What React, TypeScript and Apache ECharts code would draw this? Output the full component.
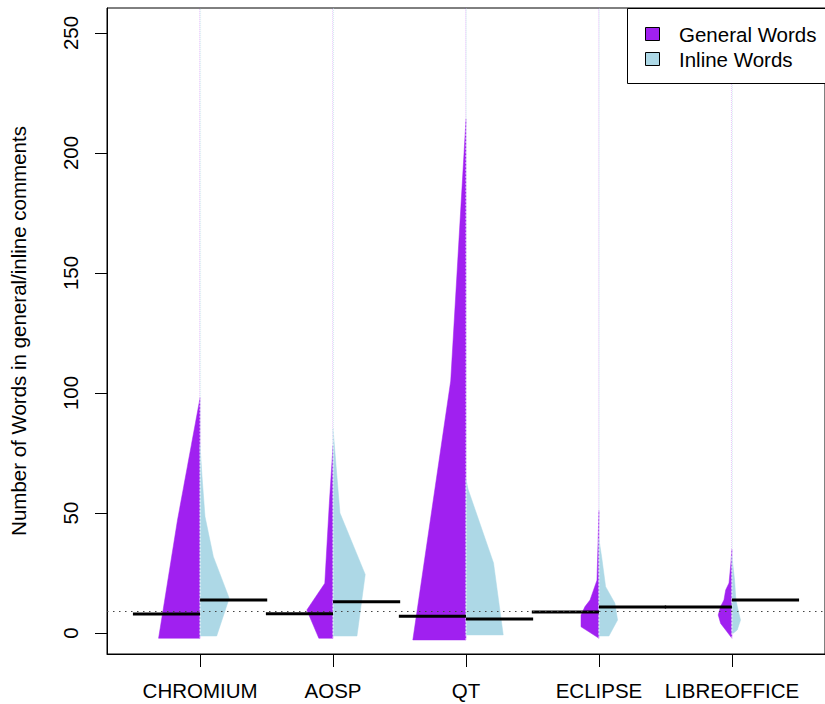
import React, { useEffect, useRef } from "react";
import * as echarts from "echarts";

const categories = ["CHROMIUM", "AOSP", "QT", "ECLIPSE", "LIBREOFFICE"];

// Bean outlines: [words, half-width of density in category units], top to bottom
const generalProfiles: number[][][] = [
  [[98, 0], [47, 0.17], [-2.2, 0.312]],
  [[78, 0], [54, 0.028], [20.7, 0.062], [9.6, 0.197], [-2.2, 0.107]],
  [[214, 0], [105, 0.115], [-2.9, 0.4]],
  [[51, 0], [22, 0.015], [13.75, 0.067], [11, 0.105], [7.5, 0.135], [2.6, 0.135], [-2.2, 0]],
  [[35, 0], [29, 0.008], [20.8, 0.022], [17.9, 0.047], [13.75, 0.06], [11, 0.085], [7.5, 0.103], [4, 0.085], [1.25, 0.047], [-2.2, 0]],
];
const inlineProfiles: number[][][] = [
  [[78, 0], [65, 0.015], [48.5, 0.037], [31.8, 0.1], [14.5, 0.219], [-1.25, 0.125]],
  [[85, 0], [50, 0.052], [24.4, 0.242], [-1.25, 0.18]],
  [[64, 0], [60, 0.015], [29.2, 0.207], [-0.8, 0.28]],
  [[39, 0], [31.8, 0.02], [19.3, 0.05], [12.4, 0.12], [5.4, 0.14], [-1.25, 0.075]],
  [[32, 0], [22, 0.02], [13.75, 0.03], [8.2, 0.052], [5.4, 0.065], [1.25, 0.04], [-0.1, 0.01]],
];
const generalMeans = [7.9, 8.0, 7.0, 8.75, 10.8];
const inlineMeans = [13.75, 13.0, 5.8, 10.8, 13.75];
const overallMean = 9.2;
const yTicks = [0, 50, 100, 150, 200, 250];
const catPositions = [1, 2, 3, 4, 5];
const seriesNames = ["General Words", "Inline Words"];

const PURPLE = "#A020F0";
const LIGHTBLUE = "#ADD8E6";
const FONT = "'Liberation Sans', Arial, Helvetica, sans-serif";
const Y_MIN = -8.75;
const Y_MAX = 260.4;

function beanRenderer(profiles: number[][][], side: number, color: string) {
  return (params: any, api: any) => {
    const i = params.dataIndex;
    const cat = catPositions[i];
    const prof = profiles[i];
    const pts = prof.map(([v, w]) => api.coord([cat + side * w, v]));
    pts.push(api.coord([cat, prof[prof.length - 1][0]]));
    pts.push(api.coord([cat, prof[0][0]]));
    const topPt = api.coord([cat, prof[0][0]]);
    const skyPt = api.coord([cat, Y_MAX]);
    return {
      type: "group",
      children: [
        {
          type: "polygon",
          shape: { points: pts },
          style: { fill: color, stroke: color, lineWidth: 0.5 },
        },
        {
          type: "line",
          shape: { x1: topPt[0] + side * 0.5, y1: topPt[1], x2: skyPt[0] + side * 0.5, y2: skyPt[1] },
          style: { stroke: side < 0 ? "rgba(160,32,240,0.25)" : "rgba(173,216,230,0.5)", lineWidth: 1, lineDash: [1, 1] },
        },
      ],
    };
  };
}

function centerRenderer(params: any, api: any) {
  const i = params.dataIndex;
  const cat = catPositions[i];
  const lo = Math.min(generalProfiles[i][generalProfiles[i].length - 1][0], inlineProfiles[i][inlineProfiles[i].length - 1][0]);
  const hi = Math.max(generalProfiles[i][0][0], inlineProfiles[i][0][0]);
  const a = api.coord([cat, lo]);
  const b = api.coord([cat, hi]);
  return {
    type: "line",
    shape: { x1: a[0], y1: a[1], x2: b[0], y2: b[1] },
    style: { stroke: "rgba(255,255,255,0.85)", lineWidth: 1, lineDash: [2, 1.5] },
  };
}

function meanRenderer(means: number[], side: number) {
  return (params: any, api: any) => {
    const i = params.dataIndex;
    const cat = catPositions[i];
    const a = api.coord([cat, means[i]]);
    const b = api.coord([cat + side * 0.505, means[i]]);
    return {
      type: "line",
      shape: { x1: a[0], y1: a[1], x2: b[0], y2: b[1] },
      style: { stroke: "#000", lineWidth: 3 },
    };
  };
}

export default function App() {
  const ref = useRef<HTMLDivElement>(null);
  useEffect(() => {
    if (!ref.current) return;
    const chart = echarts.init(ref.current, undefined, { renderer: "svg" });
    const catData = catPositions.map((c) => [c, 0]);
    const option: any = {
      animation: false,
      backgroundColor: "#fff",
      textStyle: { fontFamily: FONT },
      grid: {
        left: 106.5,
        top: 8,
        right: -2.5,
        bottom: 50,
        show: true,
        borderColor: "#000",
        borderWidth: 1,
        backgroundColor: "transparent",
      },
      xAxis: {
        type: "value",
        min: 0.3,
        max: 5.7,
        splitLine: { show: false },
        axisLine: { show: true, onZero: false, lineStyle: { color: "#000", width: 1 } },
        axisTick: { show: true, customValues: catPositions, length: 13, lineStyle: { color: "#000", width: 1 } },
        axisLabel: {
          show: true,
          customValues: catPositions,
          margin: 26,
          color: "#000",
          fontSize: 20.5,
          fontFamily: FONT,
          formatter: (v: number) => categories[Math.round(v) - 1] ?? "",
        },
      },
      yAxis: {
        type: "value",
        min: Y_MIN,
        max: Y_MAX,
        splitLine: { show: false },
        axisLine: { show: true, onZero: false, lineStyle: { color: "#000", width: 1 } },
        axisTick: { show: true, customValues: yTicks, length: 12, lineStyle: { color: "#000", width: 1 } },
        axisLabel: {
          show: true,
          customValues: yTicks,
          rotate: 90,
          margin: 26,
          color: "#000",
          fontSize: 20.5,
          fontFamily: FONT,
        },
        name: "Number of Words in general/inline comments",
        nameLocation: "middle",
        nameRotate: 90,
        nameGap: 78,
        nameTextStyle: { color: "#000", fontSize: 20.5, fontFamily: FONT },
      },
      series: [
        {
          type: "line",
          data: [],
          z: 1,
          markLine: {
            silent: true,
            symbol: "none",
            label: { show: false },
            lineStyle: { color: "#444", width: 1, type: [1.5, 4.5] },
            data: [{ yAxis: overallMean }],
          },
        },
        {
          name: seriesNames[0],
          type: "custom",
          z: 2,
          data: catData,
          renderItem: beanRenderer(generalProfiles, -1, PURPLE),
        },
        {
          name: seriesNames[1],
          type: "custom",
          z: 2,
          data: catData,
          renderItem: beanRenderer(inlineProfiles, 1, LIGHTBLUE),
        },
        {
          type: "custom",
          z: 3,
          data: catData,
          renderItem: centerRenderer,
        },
        {
          type: "custom",
          z: 4,
          data: catData,
          renderItem: meanRenderer(generalMeans, -1),
        },
        {
          type: "custom",
          z: 4,
          data: catData,
          renderItem: meanRenderer(inlineMeans, 1),
        },
      ],
      graphic: [
        {
          type: "rect",
          left: 627,
          top: 8,
          shape: { width: 210, height: 75 },
          style: { fill: "#fff", stroke: "#000", lineWidth: 1 },
          z: 10,
        },
        {
          type: "rect",
          left: 645,
          top: 27,
          shape: { width: 14, height: 13 },
          style: { fill: PURPLE, stroke: "#000", lineWidth: 1 },
          z: 11,
        },
        {
          type: "rect",
          left: 645,
          top: 52,
          shape: { width: 14, height: 13 },
          style: { fill: LIGHTBLUE, stroke: "#000", lineWidth: 1 },
          z: 11,
        },
        {
          type: "text",
          x: 679,
          y: 34,
          style: { text: seriesNames[0], fill: "#000", font: `20.5px ${FONT}`, verticalAlign: "middle" },
          z: 11,
        },
        {
          type: "text",
          x: 679,
          y: 59,
          style: { text: seriesNames[1], fill: "#000", font: `20.5px ${FONT}`, verticalAlign: "middle" },
          z: 11,
        },
      ],
    };
    chart.setOption(option);
    return () => chart.dispose();
  }, []);
  return (
    <div
      ref={ref}
      style={{ position: "fixed", left: 0, top: 0, width: 825, height: 704 }}
    />
  );
}
